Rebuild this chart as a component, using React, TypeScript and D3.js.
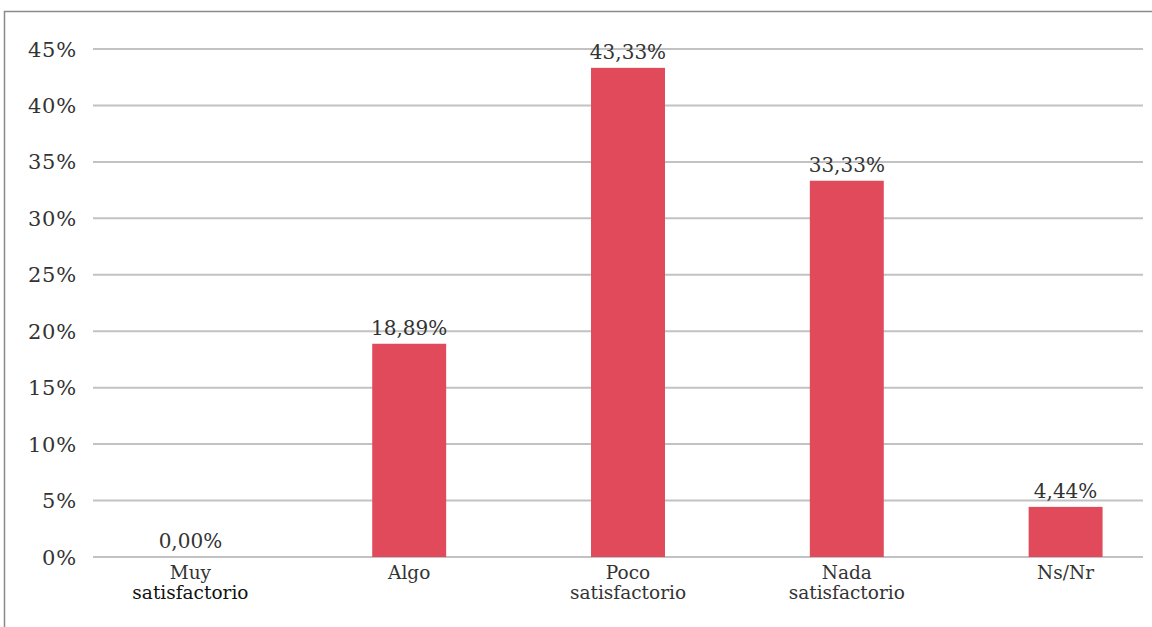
import React from "react";
import * as d3 from "d3";

const categories: string[][] = [
  ["Muy", "satisfactorio"],
  ["Algo"],
  ["Poco", "satisfactorio"],
  ["Nada", "satisfactorio"],
  ["Ns/Nr"],
];
const values: number[] = [0.0, 18.89, 43.33, 33.33, 4.44];
const yTicks: number[] = [0, 5, 10, 15, 20, 25, 30, 35, 40, 45];

const W = 1152;
const H = 627;
const FONT = "'DejaVu Serif', serif";

export default function App() {
  const keys = categories.map((c) => c.join(" "));
  const y = d3.scaleLinear().domain([0, 45]).range([557, 49]);
  const x = d3
    .scaleBand<string>()
    .domain(keys)
    .range([81, 1175])
    .paddingInner(0.662)
    .paddingOuter(0.331);
  const gridX0 = 93;
  const gridX1 = 1143;
  const fmt = (v: number) => v.toFixed(2).replace(".", ",") + "%";

  return (
    <svg
      width={W}
      height={H}
      style={{ position: "absolute", left: 0, top: 0, background: "#fff" }}
    >
      <rect x={4.5} y={11.5} width={W + 20} height={H + 20} fill="#fff" stroke="#8a8a8a" strokeWidth={1.5} />
      {yTicks.map((t) => (
        <g key={t}>
          <line x1={gridX0} x2={gridX1} y1={y(t)} y2={y(t)} stroke="#c2c2c2" strokeWidth={2} />
          <text
            x={77}
            y={y(t)}
            dy="0.36em"
            textAnchor="end"
            fontFamily={FONT}
            fontSize={21}
            letterSpacing={0.8}
            fill="#333"
          >
            {t}%
          </text>
        </g>
      ))}
      {values.map((v, i) => {
        const k = keys[i];
        const bx = x(k)!;
        const cx = bx + x.bandwidth() / 2;
        return (
          <g key={k}>
            {v > 0 && (
              <rect x={bx} y={y(v)} width={x.bandwidth()} height={y(0) - y(v)} fill="#E04A5A" />
            )}
            <text
              x={cx}
              y={y(v) - 9}
              textAnchor="middle"
              fontFamily={FONT}
              fontSize={20}
              fill="#333"
            >
              {fmt(v)}
            </text>
            {categories[i].map((line, j) => (
              <text
                key={j}
                x={cx}
                y={579 + j * 20}
                textAnchor="middle"
                fontFamily={FONT}
                fontSize={18.5}
                fill={i === 0 && j === 1 ? "#111" : "#333"}
              >
                {line}
              </text>
            ))}
          </g>
        );
      })}
    </svg>
  );
}
